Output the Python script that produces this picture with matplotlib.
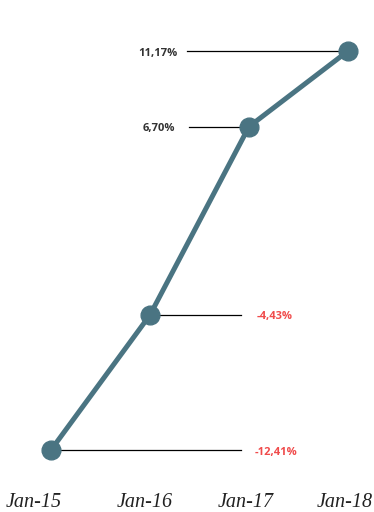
import matplotlib.pyplot as plt

# data
dates = ["Jan-15", "Jan-16", "Jan-17", "Jan-18"]
values = [-12.41, -4.43, 6.70, 11.17]
value_labels = ["-12,41%", "-4,43%", "6,70%", "11,17%"]

LINE_COLOR = "#4a7482"
POS_COLOR = "#333333"
NEG_COLOR = "#f04b4b"

W, H = 374, 512
fig = plt.figure(figsize=(W / 100, H / 100), dpi=100)
ax = fig.add_axes([0, 0, 1, 1])
ax.set_axis_off()

x = list(range(len(dates)))

# axis limits chosen so that points land where the reference puts them
px_per_x = 99.0
px_per_y = 16.92
x0_px, y_top_px = 51, 51
ax.set_xlim(-x0_px / px_per_x, (W - x0_px) / px_per_x)
ax.set_ylim(values[-1] - (H - y_top_px) / px_per_y, values[-1] + y_top_px / px_per_y)


def px_to_x(px):
    return (px - x0_px) / px_per_x


# leader line ends / label anchors in pixels (left-side labels for gains, right-side for losses)
line_ends_px = [241, 241, 189, 187]
label_anchor_px = [255, 257, 175, 178]

for xi, v, lab, le, la in zip(x, values, value_labels, line_ends_px, label_anchor_px):
    ax.plot([px_to_x(le), xi], [v, v], color="black", lw=0.9, zorder=1)
    ax.text(px_to_x(la), v - 0.12, lab, ha="right" if v >= 0 else "left", va="center",
            fontsize=8, fontweight="bold", family="Open Sans",
            color=POS_COLOR if v >= 0 else NEG_COLOR)

ax.plot(x, values, color=LINE_COLOR, lw=3.6, solid_capstyle="round", zorder=2)
ax.plot(x, values, "o", color=LINE_COLOR, markersize=13.5, zorder=3)

# date labels along the bottom
label_shift_px = [-17, -5, -3, -3]
for xi, d, s in zip(x, dates, label_shift_px):
    ax.text(xi + s / px_per_x, 0.01, d, transform=ax.get_xaxis_transform(),
            ha="center", va="baseline", fontsize=14.5, style="italic",
            family="Liberation Serif", color="#222222")

fig.savefig("out.png", dpi=100)
